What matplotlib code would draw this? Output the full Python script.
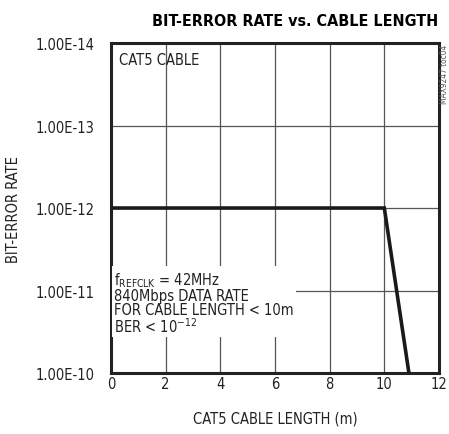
import numpy as np
import matplotlib.pyplot as plt

plt.rcParams['font.family'] = ['DejaVu Sans']
plt.rcParams['font.stretch'] = 'condensed'

# data
length_m = [0, 10, 10.9]
ber = [1e-12, 1e-12, 1e-10]
x_ticks = [0, 2, 4, 6, 8, 10, 12]
y_ticks = [1e-14, 1e-13, 1e-12, 1e-11, 1e-10]
y_labels = ['1.00E-14', '1.00E-13', '1.00E-12', '1.00E-11', '1.00E-10']

fig = plt.figure(figsize=(4.49, 4.35), dpi=100)
ax = fig.add_axes([0.2472, 0.1402, 0.7305, 0.7586])

ax.set_yscale('log')
ax.set_xlim(0, 12)
ax.set_ylim(1e-10, 1e-14)  # inverted, better BER at top
ax.set_xticks(x_ticks)
ax.set_yticks(y_ticks)
ax.set_yticklabels(y_labels)
ax.yaxis.set_minor_locator(plt.NullLocator())
ax.tick_params(length=0, labelsize=10.5, colors='#222222')
ax.tick_params(axis='y', pad=12)
ax.tick_params(axis='x', pad=2)

ax.grid(True, color='#555555', linewidth=0.9)
ax.set_axisbelow(True)
for s in ax.spines.values():
    s.set_linewidth(2.2)
    s.set_color('#222222')

ax.plot(length_m, ber, color='#1a1a1a', linewidth=2.6, solid_joinstyle='miter', zorder=3)

ax.set_title('BIT-ERROR RATE vs. CABLE LENGTH', fontsize=11.5, fontweight='bold', pad=13, x=0.56)
ax.set_xlabel('CAT5 CABLE LENGTH (m)', fontsize=10.5, labelpad=14, color='#222222')
ax.set_ylabel('BIT-ERROR RATE', fontsize=10.5, labelpad=10, color='#222222')

ax.text(0.3, 1.6e-14, 'CAT5 CABLE', fontsize=10.5, va='center', ha='left', color='#222222')
ax.text(0.12, 1.4e-11,
        '$\\mathregular{f_{REFCLK}}$ = 42MHz\n840Mbps DATA RATE\nFOR CABLE LENGTH < 10m\nBER < $\\mathregular{10^{-12}}$',
        fontsize=10.5, va='center', ha='left', color='#222222', linespacing=0.95,
        bbox=dict(facecolor='white', edgecolor='none', pad=1.5), zorder=4)

fig.text(0.99, 0.897, 'MAX9247 toc04', rotation=90, fontsize=6, color='#555555',
         ha='center', va='top')

fig.savefig('out.png', dpi=100)
